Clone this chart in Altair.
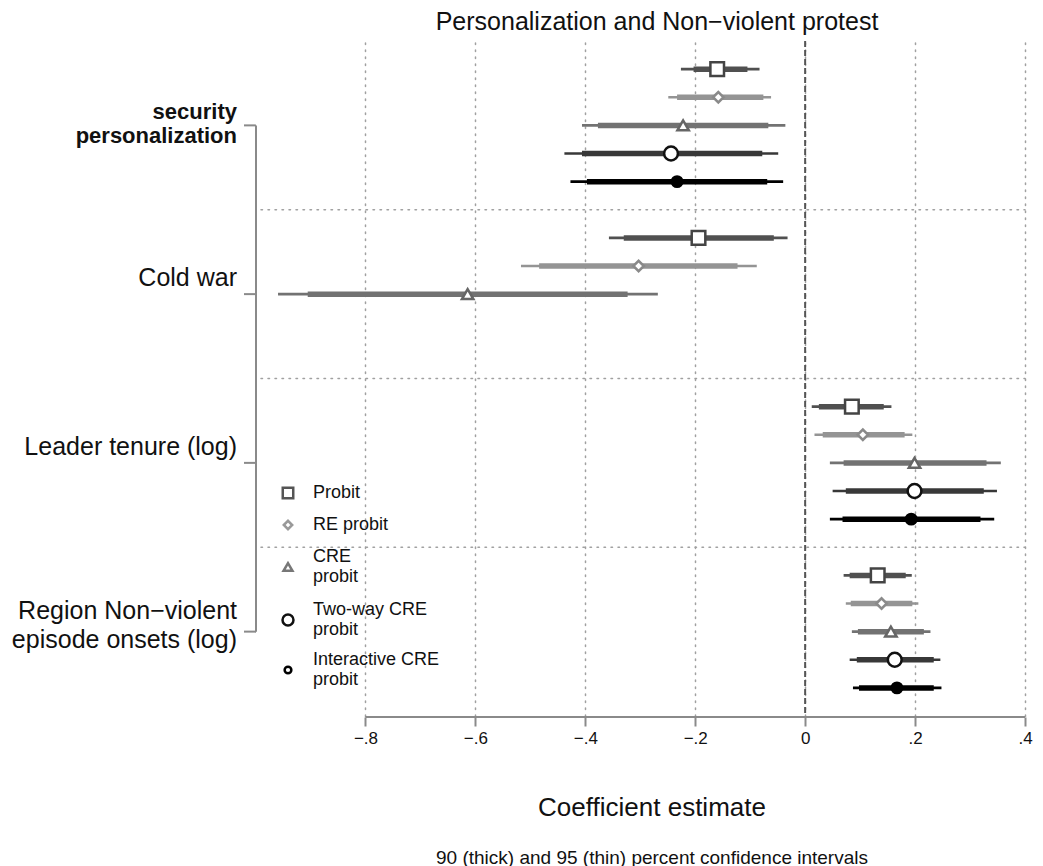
import altair as alt
import pandas as pd

# ---------------- data ----------------
variables = ["security personalization", "Cold war", "Leader tenure (log)",
             "Region Non\u2212violent episode onsets (log)"]
var_lines = [["security", "personalization"], ["Cold war"], ["Leader tenure (log)"],
             ["Region Non\u2212violent", "episode onsets (log)"]]
models = ["Probit", "RE probit", "CRE probit", "Two-way CRE probit", "Interactive CRE probit"]
legend_lines = [["Probit"], ["RE probit"], ["CRE", "probit"], ["Two-way CRE", "probit"],
                ["Interactive CRE", "probit"]]

est = {
    "Probit":                 [-0.160, -0.194, 0.085, 0.132],
    "RE probit":              [-0.158, -0.303, 0.105, 0.139],
    "CRE probit":             [-0.222, -0.614, 0.199, 0.156],
    "Two-way CRE probit":     [-0.244, None, 0.199, 0.163],
    "Interactive CRE probit": [-0.233, None, 0.193, 0.167],
}
lo95 = {
    "Probit":                 [-0.226, -0.357, 0.012, 0.070],
    "RE probit":              [-0.249, -0.517, 0.017, 0.074],
    "CRE probit":             [-0.406, -0.959, 0.045, 0.085],
    "Two-way CRE probit":     [-0.438, None, 0.050, 0.081],
    "Interactive CRE probit": [-0.427, None, 0.045, 0.087],
}
lo90 = {
    "Probit":                 [-0.203, -0.330, 0.025, 0.081],
    "RE probit":              [-0.233, -0.484, 0.032, 0.083],
    "CRE probit":             [-0.377, -0.905, 0.070, 0.096],
    "Two-way CRE probit":     [-0.406, None, 0.074, 0.094],
    "Interactive CRE probit": [-0.397, None, 0.068, 0.098],
}
hi90 = {
    "Probit":                 [-0.105, -0.057, 0.143, 0.183],
    "RE probit":              [-0.076, -0.123, 0.181, 0.195],
    "CRE probit":             [-0.067, -0.323, 0.330, 0.216],
    "Two-way CRE probit":     [-0.078, None, 0.325, 0.234],
    "Interactive CRE probit": [-0.069, None, 0.319, 0.234],
}
hi95 = {
    "Probit":                 [-0.083, -0.032, 0.157, 0.194],
    "RE probit":              [-0.062, -0.088, 0.195, 0.206],
    "CRE probit":             [-0.036, -0.268, 0.356, 0.228],
    "Two-way CRE probit":     [-0.049, None, 0.349, 0.246],
    "Interactive CRE probit": [-0.040, None, 0.344, 0.248],
}
x_ticks = [-0.8, -0.6, -0.4, -0.2, 0, 0.2, 0.4]

title_text = "Personalization and Non\u2212violent protest"
xtitle_text = "Coefficient estimate"
note_text = "90 (thick) and 95 (thin) percent confidence intervals"

# ---------------- styles ----------------
FONT = "Liberation Sans"
W, H = 764, 675
AXIS_OFF = 1
seg_colors = ["#505050", "#949494", "#727272", "#383838", "#000000"]
mk_shape = ["square", "diamond", "triangle-up", "circle", "circle"]
mk_fill = ["white", "white", "white", "white", "black"]
mk_stroke = ["#444444", "#8a8a8a", "#666666", "#111111", "#000000"]
mk_size = [185, 110, 130, 190, 110]
lg_size = [110, 70, 80, 120, 45]
lg_stroke = ["#555555", "#999999", "#777777", "#111111", "#000000"]
GRID_DASH = [1.5, 5.5]
GRID_COLOR = "#a0a0a0"

slots_per_group = 6
n_slots = slots_per_group * len(variables)

rows = []
for g, var in enumerate(variables):
    for k, m in enumerate(models):
        if est[m][g] is None:
            continue
        rows.append({"variable": var, "model": m, "slot": slots_per_group * g + 1 + k,
                     "est": est[m][g], "lo95": lo95[m][g], "lo90": lo90[m][g],
                     "hi90": hi90[m][g], "hi95": hi95[m][g]})
df = pd.DataFrame(rows)

centers = [slots_per_group * g + 3 for g in range(len(variables))]
seps = pd.DataFrame({"sep": [slots_per_group * g for g in range(1, len(variables))]})
ygrp = pd.DataFrame({"c": centers})
yline = pd.DataFrame({"a": [centers[0]], "b": [centers[-1]]})
xline = pd.DataFrame({"a": [x_ticks[0]], "b": [x_ticks[-1]], "z": [0.0]})
one = pd.DataFrame({"k": [0]})

xscale = alt.Scale(domain=[-0.99, 0.4], nice=False, zero=False)
yscale = alt.Scale(domain=[0, n_slots], reverse=True, nice=False, zero=False)
cscale = alt.Scale(domain=models, range=seg_colors)

label_expr = "datum.value == 0 ? '0' : replace(format(datum.value, '.1f'), '0.', '.')"

base = alt.Chart(df)

axis_layer = base.mark_point(opacity=0).encode(
    x=alt.X("est:Q", scale=xscale, title=None,
            axis=alt.Axis(values=x_ticks, grid=True, gridDash=GRID_DASH, gridColor=GRID_COLOR,
                          gridWidth=1.5, gridCap="round", domain=False, tickSize=9,
                          tickColor="#8a8a8a", tickWidth=2, offset=AXIS_OFF, labelFontSize=17,
                          labelFont=FONT, labelColor="#111", labelPadding=4,
                          labelExpr=label_expr, labelFlush=False)),
    y=alt.Y("slot:Q", scale=yscale, axis=None),
)

hsep = alt.Chart(seps).mark_rule(strokeDash=GRID_DASH, color=GRID_COLOR, strokeWidth=1.5,
                                 strokeCap="round").encode(
    y=alt.Y("sep:Q", scale=yscale, axis=None), x=alt.value(0), x2=alt.value(W))

zero_line = alt.Chart(xline).mark_rule(strokeDash=[6, 3], color="#555", strokeWidth=2).encode(
    x=alt.X("z:Q", scale=xscale, title=None), y=alt.value(0), y2=alt.value(H + AXIS_OFF))

x_axis_line = alt.Chart(xline).mark_rule(color="#8a8a8a", strokeWidth=2).encode(
    x=alt.X("a:Q", scale=xscale, title=None), x2="b:Q", y=alt.value(H + AXIS_OFF))

thin = base.mark_rule(strokeWidth=2.6).encode(
    x=alt.X("lo95:Q", scale=xscale, title=None), x2="hi95:Q",
    y=alt.Y("slot:Q", scale=yscale, axis=None),
    color=alt.Color("model:N", scale=cscale, legend=None))

thick = base.mark_rule(strokeWidth=5.5).encode(
    x=alt.X("lo90:Q", scale=xscale, title=None), x2="hi90:Q",
    y=alt.Y("slot:Q", scale=yscale, axis=None),
    color=alt.Color("model:N", scale=cscale, legend=None))

layers = [hsep, axis_layer, zero_line, x_axis_line, thin, thick]

for k, m in enumerate(models):
    layers.append(
        base.transform_filter(alt.datum.model == m).mark_point(
            shape=mk_shape[k], fill=mk_fill[k], stroke=mk_stroke[k], strokeWidth=2.5,
            size=mk_size[k], opacity=1, fillOpacity=1, filled=True
        ).encode(x=alt.X("est:Q", scale=xscale, title=None),
                 y=alt.Y("slot:Q", scale=yscale, axis=None)))

# y "axis": line between first and last label, ticks, labels
layers.append(alt.Chart(yline).mark_rule(color="#8a8a8a", strokeWidth=2).encode(
    y=alt.Y("a:Q", scale=yscale, axis=None), y2="b:Q", x=alt.value(-5)))
layers.append(alt.Chart(ygrp).mark_rule(color="#8a8a8a", strokeWidth=2).encode(
    y=alt.Y("c:Q", scale=yscale, axis=None), x=alt.value(-17), x2=alt.value(-5)))

# first-line offsets of the group labels relative to their tick
label_dy = [-13, -16, -16, -21]
for g, lines in enumerate(var_lines):
    bold = g == 0
    layers.append(alt.Chart(ygrp).transform_filter(alt.datum.c == centers[g]).mark_text(
        text=lines if len(lines) > 1 else lines[0], align="right", baseline="middle",
        font=FONT, fontSize=22 if bold else 25, fontWeight="bold" if bold else "normal",
        lineHeight=24 if bold else 29, color="#111", dy=label_dy[g]
    ).encode(x=alt.value(-24), y=alt.Y("c:Q", scale=yscale, axis=None)))

# legend (inside plot, lower left)
lg_y = [452, 484, 526, 579, 629]
for k, m in enumerate(models):
    layers.append(alt.Chart(one).mark_point(
        shape=mk_shape[k], fill="white", stroke=lg_stroke[k], strokeWidth=2.5,
        size=lg_size[k], opacity=1, filled=True
    ).encode(x=alt.value(27), y=alt.value(lg_y[k])))
    lines = legend_lines[k]
    multi = len(lines) > 1
    layers.append(alt.Chart(one).mark_text(
        text=lines if multi else lines[0], align="left", baseline="middle",
        font=FONT, fontSize=18, lineHeight=20, color="#111", dy=-10 if multi else 0
    ).encode(x=alt.value(52), y=alt.value(lg_y[k])))

# titles
layers.append(alt.Chart(one).mark_text(text=title_text, font=FONT, fontSize=25,
                                       align="center", baseline="middle", color="#111")
              .encode(x=alt.value(396), y=alt.value(-19)))
layers.append(alt.Chart(one).mark_text(text=xtitle_text, font=FONT, fontSize=26,
                                       align="center", baseline="middle", color="#111")
              .encode(x=alt.value(391), y=alt.value(767)))
layers.append(alt.Chart(one).mark_text(text=note_text, font=FONT, fontSize=19,
                                       align="center", baseline="middle", color="#111")
              .encode(x=alt.value(391), y=alt.value(817)))

chart = alt.layer(*layers).properties(
    width=W, height=H,
    autosize=alt.AutoSizeParams(type="none"),
    padding={"left": 253, "top": 33, "right": 10, "bottom": 160},
).configure(background="white").configure_view(stroke=None)

chart.save("out.html", embed_options={"renderer": "svg", "actions": False})
